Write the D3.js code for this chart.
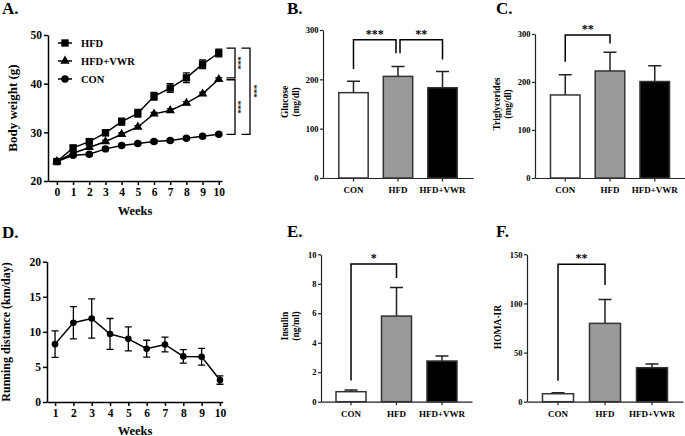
<!DOCTYPE html>
<html><head><meta charset="utf-8">
<script src="https://cdn.jsdelivr.net/npm/d3@7"></script>
<style>
body{margin:0;background:#fff}
svg{display:block}
text{font-family:"Liberation Serif","Times New Roman",serif;font-weight:bold;fill:#000}
</style>
</head><body>
<svg id="c" width="685" height="436"></svg>
<script>
// ---------- DATA ----------
const weeksA = [0,1,2,3,4,5,6,7,8,9,10];
const hfdMean = [24.0,26.8,28.1,29.9,32.2,33.9,37.4,39.1,41.2,44.0,46.3];
const hfdErr  = [0.3,0.5,0.5,0.6,0.7,0.8,0.8,0.9,1.0,0.9,0.8];
const vwrMean = [24.0,25.7,26.9,28.1,29.6,31.1,33.8,34.5,36.0,37.9,40.9];
const vwrErr  = [0.3,0.3,0.3,0.3,0.3,0.3,0.3,0.3,0.3,0.3,0.3];
const conMean = [24.0,25.3,25.5,26.6,27.3,27.7,28.1,28.3,28.8,29.2,29.6];
const conErr  = [0.3,0.3,0.3,0.3,0.3,0.3,0.3,0.3,0.3,0.3,0.3];
const yTicksA = [20,30,40,50];

const weeksD = [1,2,3,4,5,6,7,8,9,10];
const runMean = [8.25,11.3,11.9,9.7,9.0,7.6,8.2,6.5,6.45,3.13];
const runErr  = [1.9,2.3,2.8,2.2,1.7,1.2,1.05,0.97,1.2,0.6];
const yTicksD = [0,5,10,15,20];

const groups = ["CON","HFD","HFD+VWR"];
const glucoseMean = [173,206,183];
const glucoseErr  = [23,20,33];
const trigMean = [173,223,201];
const trigErr  = [42,39,33];
const insulinMean = [0.68,5.81,2.76];
const insulinErr  = [0.11,1.93,0.34];
const homaMean = [8.1,79.7,34.6];
const homaErr  = [1.1,24.3,3.7];
const ticks300 = [0,100,200,300];
const ticks10 = [0,2,4,6,8,10];
const ticks150 = [0,50,100,150];

// ---------- DRAW ----------
const svg = d3.select("#c");

function styleAxis(g, fs, sw, col){
  g.attr("font-size", fs).attr("font-family", null);
  g.selectAll("path,line").attr("stroke",col||"#000").attr("stroke-width", sw);
}
function title(t,x,y){
  svg.append("text").attr("x",x).attr("y",y).attr("font-size",17).text(t);
}
function vlabel(lines,cx,cy,fs,gap){
  lines.forEach((t,i)=>{
    const x = cx + i*gap + fs*0.35;
    svg.append("text").attr("transform",`translate(${x},${cy}) rotate(-90)`)
      .attr("text-anchor","middle").attr("font-size",fs).text(t);
  });
}

// ----- Panel A -----
title("A.",2,14);
const xA = d3.scaleLinear().domain([-0.55,10.2]).range([48,222]);
const yA = d3.scaleLinear().domain([20,50]).range([181,35]);
const gxA = svg.append("g").attr("transform","translate(0,181)")
  .call(d3.axisBottom(xA).tickValues(weeksA).tickSize(4).tickSizeOuter(0).tickPadding(3).tickFormat(d3.format("d")));
styleAxis(gxA,11.5,1.5);
const gyA = svg.append("g").attr("transform","translate(48,0)")
  .call(d3.axisLeft(yA).tickValues(yTicksA).tickSize(4).tickSizeOuter(0).tickPadding(2));
styleAxis(gyA,11.5,1.5);
svg.append("text").attr("x",135).attr("y",215).attr("text-anchor","middle").attr("font-size",12.5).text("Weeks");
vlabel(["Body weight (g)"],12,108,13,0);

const seriesA = [
  {name:"CON", mean:conMean, err:conErr, sym:d3.symbolCircle, size:44},
  {name:"HFD+VWR", mean:vwrMean, err:vwrErr, sym:d3.symbolTriangle, size:38},
  {name:"HFD", mean:hfdMean, err:hfdErr, sym:d3.symbolSquare, size:54}
];
const lineA = d3.line().x((d,i)=>xA(weeksA[i])).y(d=>yA(d));
seriesA.forEach(s=>{
  const g = svg.append("g");
  g.append("path").attr("d",lineA(s.mean)).attr("fill","none").attr("stroke","#000").attr("stroke-width",1.5);
  s.mean.forEach((m,i)=>{
    const x = xA(weeksA[i]), yt = yA(m+s.err[i]), yb = yA(m-s.err[i]);
    g.append("path").attr("d",`M${x},${yt}V${yb}M${x-3.5},${yt}H${x+3.5}M${x-3.5},${yb}H${x+3.5}`)
      .attr("stroke","#000").attr("stroke-width",1.2);
    g.append("path").attr("d",d3.symbol(s.sym,s.size)()).attr("transform",`translate(${x},${yA(m)})`).attr("fill","#000");
  });
});
// legend
[["HFD",d3.symbolSquare,54,43],["HFD+VWR",d3.symbolTriangle,38,61],["CON",d3.symbolCircle,44,79]].forEach(([t,sym,sz,y])=>{
  svg.append("line").attr("x1",58).attr("x2",72).attr("y1",y).attr("y2",y).attr("stroke","#000").attr("stroke-width",1.5);
  svg.append("path").attr("d",d3.symbol(sym,sz)()).attr("transform",`translate(65,${y})`).attr("fill","#000");
  svg.append("text").attr("x",81).attr("y",y+3.5).attr("font-size",10.5).text(t);
});
// brackets A
function bracketV(xa,xb,ya,yb){
  svg.append("path").attr("d",`M${xa},${ya}H${xb}V${yb}H${xa}`).attr("fill","none").attr("stroke","#000").attr("stroke-width",1.3);
}
function starV(t,x,y){
  svg.append("text").attr("transform",`translate(${x},${y}) rotate(90)`).attr("text-anchor","middle")
    .attr("font-size",8.5).attr("dy","0.55em").text(t);
}
const tHFD = yA(hfdMean[10]+hfdErr[10]+0.2), bVWRtop = yA(vwrMean[10]+0.3), bCON = yA(conMean[10]);
bracketV(226.5,235,tHFD,bVWRtop);
starV("***",240,(tHFD+bVWRtop)/2);
bracketV(226.5,235,yA(vwrMean[10]-0.1),bCON);
starV("***",240,(yA(vwrMean[10]-0.1)+bCON)/2);
bracketV(241.5,250,tHFD,bCON);
starV("***",255.5,(tHFD+bCON)/2);

// ----- Panel D -----
title("D.",2,238);
const xD = d3.scaleLinear().domain([0.56,10.15]).range([47,222.7]);
const yD = d3.scaleLinear().domain([0,20]).range([402,261.7]);
const gxD = svg.append("g").attr("transform","translate(0,402)")
  .call(d3.axisBottom(xD).tickValues(weeksD).tickSize(4).tickSizeOuter(0).tickPadding(3).tickFormat(d3.format("d")));
styleAxis(gxD,11.5,1.5);
const gyD = svg.append("g").attr("transform","translate(47,0)")
  .call(d3.axisLeft(yD).tickValues(yTicksD).tickSize(4).tickSizeOuter(0).tickPadding(2));
styleAxis(gyD,11.5,1.5);
svg.append("text").attr("x",135).attr("y",434.5).attr("text-anchor","middle").attr("font-size",12.5).text("Weeks");
vlabel(["Running distance (km/day)"],6,332,12,0);
const lineD = d3.line().x((d,i)=>xD(weeksD[i])).y(d=>yD(d));
svg.append("path").attr("d",lineD(runMean)).attr("fill","none").attr("stroke","#000").attr("stroke-width",1.5);
runMean.forEach((m,i)=>{
  const x = xD(weeksD[i]), yt = yD(m+runErr[i]), yb = yD(m-runErr[i]);
  svg.append("path").attr("d",`M${x},${yt}V${yb}M${x-3.5},${yt}H${x+3.5}M${x-3.5},${yb}H${x+3.5}`)
    .attr("stroke","#000").attr("stroke-width",1.3);
  svg.append("circle").attr("cx",x).attr("cy",yD(m)).attr("r",3.3).attr("fill","#000");
});

// ----- Bar panels -----
const fills = ["#ffffff","#9a9a9a","#000000"];
function barPanel(o){
  title(o.title,o.titleX,o.titleY);
  const x = d3.scaleBand().domain(groups).range([o.x0,o.x1]).paddingInner(0.34).paddingOuter(o.po);
  const y = d3.scaleLinear().domain([0,o.max]).range([o.yb,o.yt]);
  const gx = svg.append("g").attr("transform",`translate(0,${o.yb})`)
    .call(d3.axisBottom(x).tickSize(3.5).tickSizeOuter(0).tickPadding(5.5));
  styleAxis(gx,9,1.2,"#222");
  const gy = svg.append("g").attr("transform",`translate(${o.x0},0)`)
    .call(d3.axisLeft(y).tickValues(o.ticks).tickSize(3).tickSizeOuter(0).tickPadding(1.5));
  styleAxis(gy,8.5,1.2,"#222");
  vlabel(o.ylabel,o.lx,o.ly,9.5,10.5);
  groups.forEach((gname,i)=>{
    const bx = x(gname), bw = x.bandwidth(), cx = bx + bw/2;
    const top = y(o.mean[i]+o.err[i]);
    svg.append("path").attr("d",`M${cx},${y(o.mean[i])}V${top}M${cx-6.5},${top}H${cx+6.5}`)
      .attr("stroke","#222").attr("stroke-width",1.5);
    svg.append("rect").attr("x",bx).attr("y",y(o.mean[i])).attr("width",bw).attr("height",y(0)-y(o.mean[i]))
      .attr("fill",fills[i]).attr("stroke","#333").attr("stroke-width",1.5);
  });
  o.brackets.forEach(b=>{
    const xa = x(groups[b.a])+x.bandwidth()/2 + (b.oa||0);
    const xb = x(groups[b.b])+x.bandwidth()/2 + (b.ob||0);
    svg.append("path").attr("d",`M${xa},${y(b.la)}V${y(b.h)}H${xb}V${y(b.lb)}`)
      .attr("fill","none").attr("stroke","#000").attr("stroke-width",1.5);
    svg.append("text").attr("x",(xa+xb)/2).attr("y",y(b.h)-2).attr("text-anchor","middle")
      .attr("font-size",12).text(b.t);
  });
}
barPanel({title:"B.",titleX:287,titleY:14,x0:323,x1:473,po:0.355,yb:178,yt:30,max:300,ticks:ticks300,
  mean:glucoseMean,err:glucoseErr,ylabel:["Glucose","(mg/dl)"],lx:285,ly:102,
  brackets:[{a:0,b:1,h:280,la:221,lb:253,ob:-2,t:"***"},{a:1,b:2,h:280,la:253,lb:240,oa:2,t:"**"}]});
barPanel({title:"C.",titleX:496,titleY:14,x0:535,x1:685,po:0.346,yb:178,yt:34,max:300,ticks:ticks300,
  mean:trigMean,err:trigErr,ylabel:["Triglycerides","(mg/dl)"],lx:497,ly:104,
  brackets:[{a:0,b:1,h:298,la:242,lb:280,t:"**"}]});
barPanel({title:"E.",titleX:287,titleY:237,x0:321,x1:472,po:0.33,yb:401.7,yt:254.3,max:10,ticks:ticks10,
  mean:insulinMean,err:insulinErr,ylabel:["Insulin","(ng/ml)"],lx:285,ly:326,
  brackets:[{a:0,b:1,h:9.34,la:1.43,lb:8.4,t:"*"}]});
barPanel({title:"F.",titleX:496,titleY:237,x0:527,x1:683,po:0.33,yb:401.7,yt:254.3,max:150,ticks:ticks150,
  mean:homaMean,err:homaErr,ylabel:["HOMA-IR"],lx:498,ly:327,
  brackets:[{a:0,b:1,h:140,la:21.4,lb:118.8,t:"**"}]});
</script>
</body></html>
